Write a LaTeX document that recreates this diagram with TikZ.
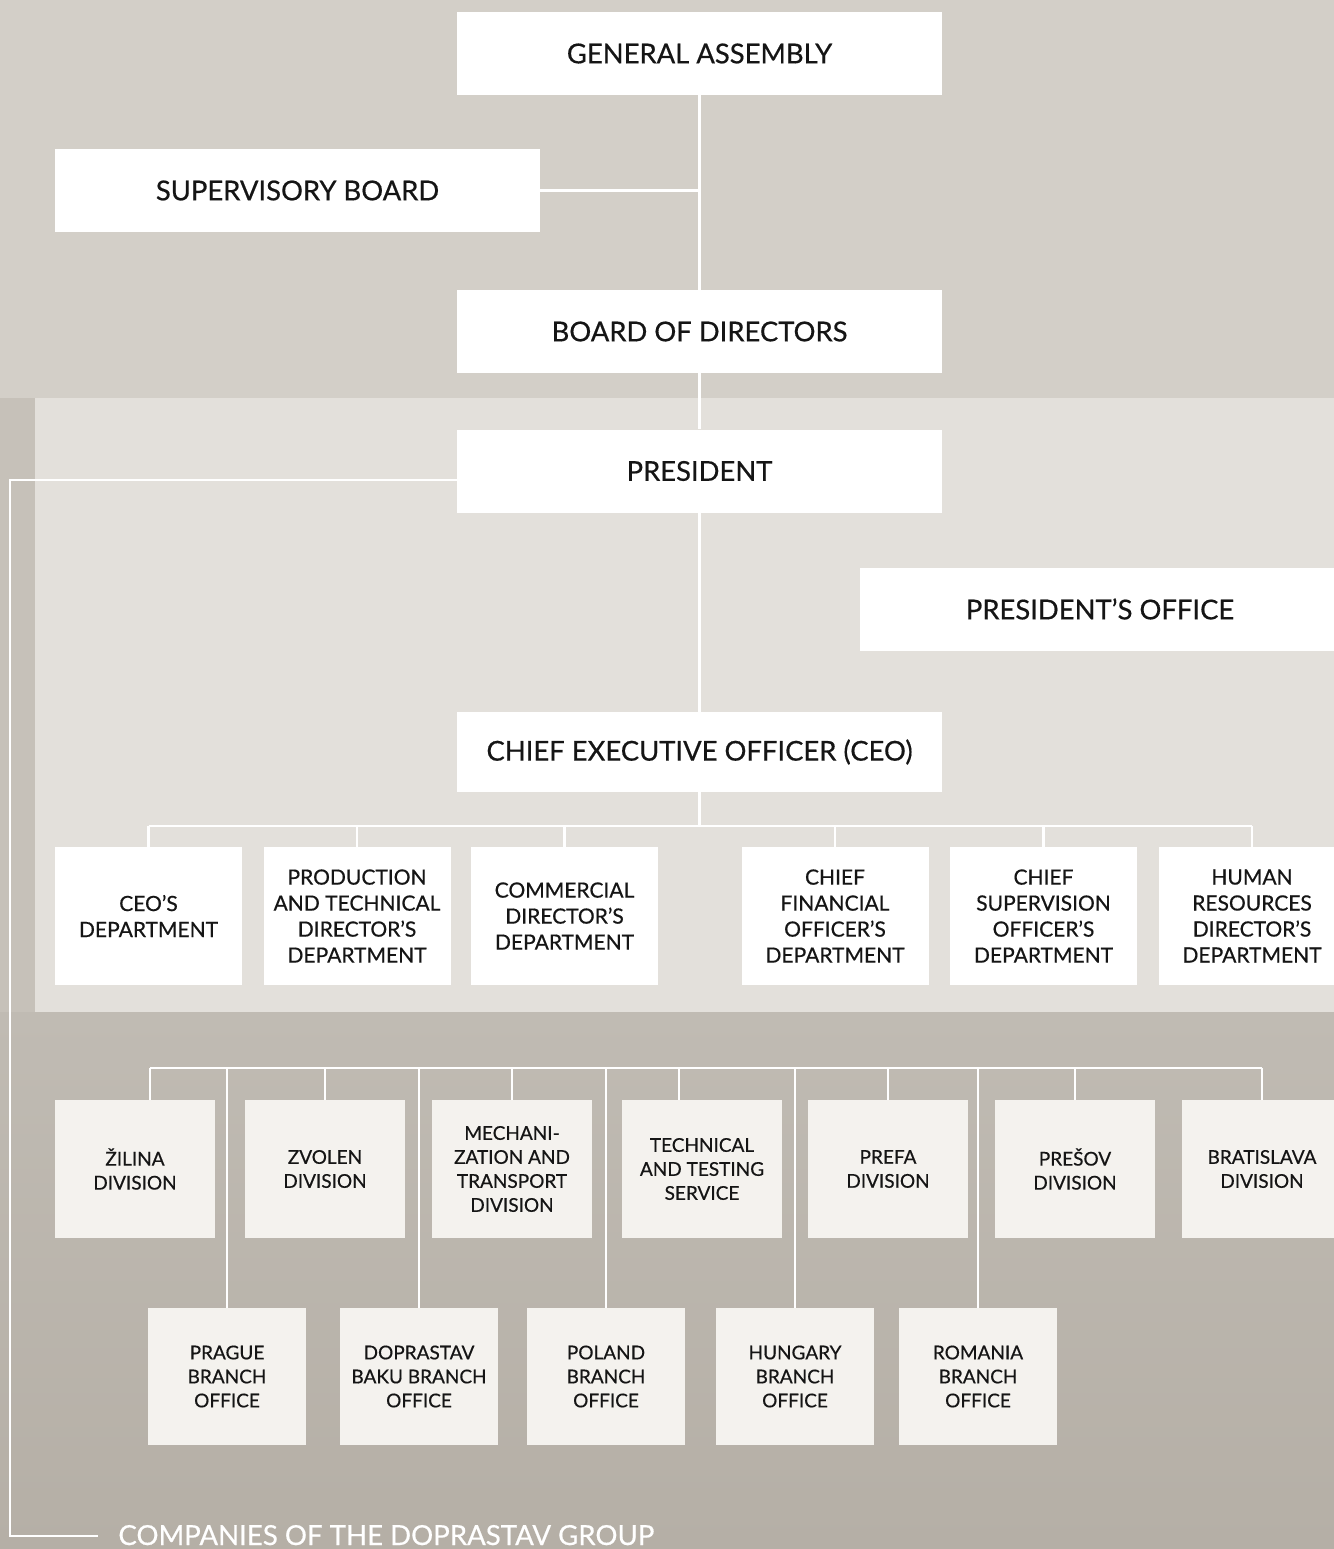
\documentclass[tikz,border=0pt]{standalone}
\usepackage{fontspec}
\setmainfont{Lato}[FakeBold=0.5]
\definecolor{bgtop}{HTML}{D3CFC8}
\definecolor{bgband}{HTML}{C6C1B9}
\definecolor{panel}{HTML}{E3E0DB}
\definecolor{bgbot1}{HTML}{C0BBB3}
\definecolor{bgbot2}{HTML}{B5AFA6}
\definecolor{offwhite}{HTML}{F4F2EE}
\definecolor{ink}{HTML}{151515}
\begin{document}
\begin{tikzpicture}[x=0.5pt,y=-0.5pt,
  box/.style={fill=white, draw=none, inner sep=0pt, align=center, text=ink},
  bigbox/.style={box, minimum width=242.5pt, minimum height=41.5pt, font=\fontsize{13.7}{16}\selectfont},
  dept/.style={box, minimum width=93.5pt, minimum height=69pt, font=\fontsize{10.5}{13}\selectfont},
  divbox/.style={box, fill=offwhite, minimum width=80pt, minimum height=69pt, font=\fontsize{9.5}{12}\selectfont},
  branch/.style={box, fill=offwhite, minimum width=79pt, minimum height=68.5pt, font=\fontsize{9.5}{12}\selectfont},
  conn/.style={draw=white, line width=1.1pt}]
\useasboundingbox (0,0) rectangle (1334,1549);
% background
\fill[bgtop] (0,0) rectangle (1334,398);
\fill[bgband] (0,398) rectangle (1334,1012);
\fill[panel] (35,398) rectangle (1334,1012);
\shade[top color=bgbot1, bottom color=bgbot2] (0,1012) rectangle (1334,1549);

% top chain
\node[bigbox] (ga) at (699.5,53.5) {GENERAL ASSEMBLY};
\node[bigbox] (sb) at (297.5,190.5) {SUPERVISORY BOARD};
\node[bigbox] (bod) at (699.5,331.5) {BOARD OF DIRECTORS};
\node[bigbox] (pres) at (699.5,471) {PRESIDENT};
\node[bigbox, minimum width=240pt] (po) at (1100,609) {PRESIDENT’S OFFICE};
\node[bigbox, minimum height=40pt] (ceo) at (699.5,752) {CHIEF EXECUTIVE OFFICER (CEO)};

% departments
\node[dept] (d1) at (148.5,916) {CEO’S\\DEPARTMENT};
\node[dept] (d2) at (357,916) {PRODUCTION\\AND TECHNICAL\\DIRECTOR’S\\DEPARTMENT};
\node[dept] (d3) at (564.5,916) {COMMERCIAL\\DIRECTOR’S\\DEPARTMENT};
\node[dept] (d4) at (835,916) {CHIEF\\FINANCIAL\\OFFICER’S\\DEPARTMENT};
\node[dept] (d5) at (1043.5,916) {CHIEF\\SUPERVISION\\OFFICER’S\\DEPARTMENT};
\node[dept] (d6) at (1252,916) {HUMAN\\RESOURCES\\DIRECTOR’S\\DEPARTMENT};

% divisions
\node[divbox] (v1) at (135,1169) {ŽILINA\\DIVISION};
\node[divbox] (v2) at (325,1169) {ZVOLEN\\DIVISION};
\node[divbox] (v3) at (512,1169) {MECHANI-\\ZATION AND\\TRANSPORT\\DIVISION};
\node[divbox] (v4) at (702,1169) {TECHNICAL\\AND TESTING\\SERVICE};
\node[divbox] (v5) at (888,1169) {PREFA\\DIVISION};
\node[divbox] (v6) at (1075,1169) {PREŠOV\\DIVISION};
\node[divbox] (v7) at (1262,1169) {BRATISLAVA\\DIVISION};

% branch offices
\node[branch] (b1) at (227,1376.5) {PRAGUE\\BRANCH\\OFFICE};
\node[branch] (b2) at (419,1376.5) {DOPRASTAV\\BAKU BRANCH\\OFFICE};
\node[branch] (b3) at (606,1376.5) {POLAND\\BRANCH\\OFFICE};
\node[branch] (b4) at (795,1376.5) {HUNGARY\\BRANCH\\OFFICE};
\node[branch] (b5) at (978,1376.5) {ROMANIA\\BRANCH\\OFFICE};

% group label
\node[anchor=base west, inner sep=0pt, text=white, font=\fontsize{13.8}{16}\selectfont] (grp) at (118,1545) {COMPANIES OF THE DOPRASTAV GROUP};

% coordinates
\coordinate (bus1) at (0,826);
\coordinate (bus2) at (0,1068);
\coordinate (lc) at (10,1536);

% connectors: trunk
\draw[conn] (ga.south) -- (bod.north);
\draw[conn] (bod.south) -- (pres.north);
\draw[conn] (pres.south) -- (ceo.north);
\draw[conn] (ceo.south) -- (ceo.south |- bus1);
\draw[conn] (sb.east) -- (sb.east -| ga.south);
% departments bus
\draw[conn] (d1.north |- bus1) -- (d6.north |- bus1);
\foreach \n in {d1,d2,d3,d4,d5,d6} \draw[conn] (\n.north |- bus1) -- (\n.north);
% divisions bus
\draw[conn] ([xshift=7.5pt]v1.north |- bus2) -- (v7.north |- bus2);
\draw[conn] ([xshift=7.5pt]v1.north) -- ([xshift=7.5pt]v1.north |- bus2);
\draw[conn] ([xshift=-11.5pt]v4.north) -- ([xshift=-11.5pt]v4.north |- bus2);
\foreach \n in {v2,v3,v5,v6,v7} \draw[conn] (\n.north) -- (\n.north |- bus2);
\foreach \n in {b1,b2,b3,b4,b5} \draw[conn] (\n.north) -- (\n.north |- bus2);
% left line to group companies
\draw[conn] ([yshift=-4.5pt]pres.west) -| (lc) -- ([xshift=-10pt]lc -| grp.west);
\end{tikzpicture}
\end{document}
